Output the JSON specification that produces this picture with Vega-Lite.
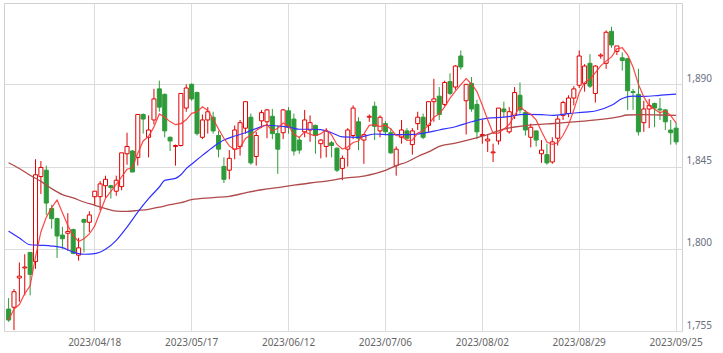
{
"$schema": "https://vega.github.io/schema/vega-lite/v6.json",
"width": 678, "height": 328,
"autosize": {"type": "none"},
"padding": {"left": 4, "top": 3, "right": 41, "bottom": 22},
"background": "white",
"config": {"view": {"stroke": "#cfcfcf"}, "font": "Noto Sans"},
"datasets": {
"candles": [
{"d":"2023/03/27","o":1767,"h":1773,"l":1760,"c":1761,"ma5":1761},
{"d":"2023/03/28","o":1768,"h":1778,"l":1755.5,"c":1776.5,"ma5":1767},
{"d":"2023/03/29","o":1784,"h":1792.5,"l":1771,"c":1785,"ma5":1769.5},
{"d":"2023/03/30","o":1789.5,"h":1797,"l":1774.5,"c":1790,"ma5":1775.5},
{"d":"2023/03/31","o":1798,"h":1798,"l":1774.5,"c":1786,"ma5":1779.7},
{"d":"2023/04/03","o":1793,"h":1849,"l":1789,"c":1840.5,"ma5":1795.6},
{"d":"2023/04/04","o":1839.5,"h":1848,"l":1830,"c":1844.5,"ma5":1809.2},
{"d":"2023/04/05","o":1843,"h":1845.5,"l":1818.5,"c":1825,"ma5":1817.2},
{"d":"2023/04/06","o":1822,"h":1824,"l":1811,"c":1816.5,"ma5":1822.5},
{"d":"2023/04/07","o":1816.5,"h":1817,"l":1795,"c":1807,"ma5":1826.7},
{"d":"2023/04/10","o":1807.5,"h":1812,"l":1800,"c":1805.5,"ma5":1819.7},
{"d":"2023/04/11","o":1808.5,"h":1819.5,"l":1799,"c":1809.5,"ma5":1812.7},
{"d":"2023/04/12","o":1810.5,"h":1811,"l":1797,"c":1797.5,"ma5":1807.2},
{"d":"2023/04/13","o":1796.5,"h":1806,"l":1793.5,"c":1800.5,"ma5":1804},
{"d":"2023/04/14","o":1816,"h":1816.5,"l":1798,"c":1814.5,"ma5":1805.5},
{"d":"2023/04/17","o":1814.5,"h":1820.5,"l":1809,"c":1818.5,"ma5":1808.1},
{"d":"2023/04/18","o":1828.5,"h":1831.5,"l":1823.5,"c":1831.5,"ma5":1812.5},
{"d":"2023/04/19","o":1828.5,"h":1837,"l":1821,"c":1835.5,"ma5":1820.1},
{"d":"2023/04/20","o":1834.5,"h":1840,"l":1828,"c":1838,"ma5":1827.6},
{"d":"2023/04/21","o":1834.5,"h":1835,"l":1827.5,"c":1833.5,"ma5":1831.4},
{"d":"2023/04/24","o":1831.5,"h":1840,"l":1829,"c":1837.5,"ma5":1835.2},
{"d":"2023/04/25","o":1834,"h":1852.5,"l":1832,"c":1852.5,"ma5":1839.4},
{"d":"2023/04/26","o":1852,"h":1863.5,"l":1846,"c":1856,"ma5":1843.5},
{"d":"2023/04/27","o":1853.5,"h":1854,"l":1842,"c":1842,"ma5":1844.3},
{"d":"2023/04/28","o":1850,"h":1873.5,"l":1845.5,"c":1873.5,"ma5":1852.3},
{"d":"2023/05/01","o":1873.5,"h":1874,"l":1863,"c":1871,"ma5":1859},
{"d":"2023/05/02","o":1861,"h":1873,"l":1850,"c":1865,"ma5":1861.5},
{"d":"2023/05/08","o":1870.5,"h":1887.5,"l":1868,"c":1882,"ma5":1866.7},
{"d":"2023/05/09","o":1887.5,"h":1892,"l":1875,"c":1877.5,"ma5":1873.8},
{"d":"2023/05/10","o":1884.5,"h":1885,"l":1861,"c":1864.5,"ma5":1872},
{"d":"2023/05/11","o":1861,"h":1861.5,"l":1853.5,"c":1859,"ma5":1869.6},
{"d":"2023/05/12","o":1856,"h":1857,"l":1845.5,"c":1856.5,"ma5":1867.9},
{"d":"2023/05/15","o":1856.5,"h":1885,"l":1856,"c":1885,"ma5":1868.5},
{"d":"2023/05/16","o":1877,"h":1890,"l":1875,"c":1888,"ma5":1870.6},
{"d":"2023/05/17","o":1890,"h":1890.5,"l":1881,"c":1882,"ma5":1874.1},
{"d":"2023/05/18","o":1885.5,"h":1886,"l":1862,"c":1863,"ma5":1874.9},
{"d":"2023/05/19","o":1861,"h":1873.5,"l":1860,"c":1870.5,"ma5":1877.7},
{"d":"2023/05/22","o":1870.5,"h":1877.5,"l":1863,"c":1875,"ma5":1875.7},
{"d":"2023/05/23","o":1872,"h":1875,"l":1863,"c":1864.5,"ma5":1871},
{"d":"2023/05/24","o":1862,"h":1864.5,"l":1850,"c":1854.5,"ma5":1865.5},
{"d":"2023/05/25","o":1845,"h":1850,"l":1836,"c":1838,"ma5":1860.5},
{"d":"2023/05/26","o":1843,"h":1854,"l":1838,"c":1849.5,"ma5":1856.3},
{"d":"2023/05/29","o":1854.5,"h":1867.5,"l":1849,"c":1865,"ma5":1854.3},
{"d":"2023/05/30","o":1856,"h":1870.5,"l":1851,"c":1869,"ma5":1855.2},
{"d":"2023/05/31","o":1866,"h":1880.5,"l":1863,"c":1880.5,"ma5":1860.4},
{"d":"2023/06/01","o":1872,"h":1874,"l":1846,"c":1847,"ma5":1862.2},
{"d":"2023/06/02","o":1850.5,"h":1864,"l":1845.5,"c":1862,"ma5":1864.7},
{"d":"2023/06/05","o":1870,"h":1876,"l":1866,"c":1874.5,"ma5":1866.6},
{"d":"2023/06/06","o":1869.5,"h":1876.5,"l":1860.5,"c":1876,"ma5":1868},
{"d":"2023/06/07","o":1872.5,"h":1876.5,"l":1860,"c":1863,"ma5":1864.5},
{"d":"2023/06/08","o":1863,"h":1867.5,"l":1841,"c":1854.5,"ma5":1866},
{"d":"2023/06/09","o":1863.5,"h":1876.5,"l":1860,"c":1876,"ma5":1868.8},
{"d":"2023/06/12","o":1875.5,"h":1877.5,"l":1863,"c":1866.5,"ma5":1867.2},
{"d":"2023/06/13","o":1871,"h":1874,"l":1851,"c":1853.5,"ma5":1862.7},
{"d":"2023/06/14","o":1859.5,"h":1861.5,"l":1852,"c":1854,"ma5":1860.9},
{"d":"2023/06/15","o":1864,"h":1876,"l":1861,"c":1870.5,"ma5":1864.1},
{"d":"2023/06/16","o":1865,"h":1873,"l":1858.5,"c":1869,"ma5":1862.7},
{"d":"2023/06/19","o":1867.5,"h":1868,"l":1852,"c":1862,"ma5":1861.8},
{"d":"2023/06/20","o":1857.5,"h":1860,"l":1849.5,"c":1859.5,"ma5":1863},
{"d":"2023/06/21","o":1856,"h":1866,"l":1850,"c":1864.5,"ma5":1865.1},
{"d":"2023/06/22","o":1858,"h":1859,"l":1850,"c":1856.5,"ma5":1862.3},
{"d":"2023/06/23","o":1855,"h":1855.5,"l":1842,"c":1843,"ma5":1857.1},
{"d":"2023/06/26","o":1844,"h":1851,"l":1837.5,"c":1849.5,"ma5":1854.6},
{"d":"2023/06/27","o":1854.5,"h":1866,"l":1845,"c":1865,"ma5":1855.7},
{"d":"2023/06/28","o":1862,"h":1878.5,"l":1860,"c":1877,"ma5":1858.2},
{"d":"2023/06/29","o":1869.5,"h":1872,"l":1854,"c":1860.5,"ma5":1859},
{"d":"2023/06/30","o":1859.5,"h":1862.5,"l":1846.5,"c":1862.5,"ma5":1862.9},
{"d":"2023/07/03","o":1872,"h":1873.5,"l":1869.5,"c":1872.5,"ma5":1867.5},
{"d":"2023/07/04","o":1878,"h":1880.5,"l":1859.5,"c":1867,"ma5":1867.9},
{"d":"2023/07/05","o":1864.5,"h":1873,"l":1861,"c":1872,"ma5":1866.9},
{"d":"2023/07/06","o":1868.5,"h":1870,"l":1862,"c":1864,"ma5":1867.6},
{"d":"2023/07/07","o":1863.5,"h":1866,"l":1852,"c":1852.5,"ma5":1865.6},
{"d":"2023/07/10","o":1845.5,"h":1856,"l":1840,"c":1854.5,"ma5":1862},
{"d":"2023/07/11","o":1861,"h":1870.5,"l":1857.5,"c":1865,"ma5":1861.6},
{"d":"2023/07/12","o":1864.5,"h":1866,"l":1859.5,"c":1860.5,"ma5":1859.3},
{"d":"2023/07/13","o":1857,"h":1866,"l":1851.5,"c":1864.5,"ma5":1859.4},
{"d":"2023/07/14","o":1868.5,"h":1875,"l":1865,"c":1872,"ma5":1863.3},
{"d":"2023/07/18","o":1872,"h":1874,"l":1860,"c":1861,"ma5":1864.6},
{"d":"2023/07/19","o":1867.5,"h":1880.5,"l":1864,"c":1880.5,"ma5":1867.7},
{"d":"2023/07/20","o":1880.5,"h":1893,"l":1869.5,"c":1882,"ma5":1872},
{"d":"2023/07/21","o":1883.5,"h":1888.5,"l":1870.5,"c":1873.5,"ma5":1873.8},
{"d":"2023/07/24","o":1879,"h":1892,"l":1878,"c":1891,"ma5":1877.6},
{"d":"2023/07/25","o":1891.5,"h":1896,"l":1884,"c":1885,"ma5":1882.4},
{"d":"2023/07/26","o":1888.5,"h":1900.5,"l":1887,"c":1900,"ma5":1886.3},
{"d":"2023/07/27","o":1905.5,"h":1908.5,"l":1898,"c":1899.5,"ma5":1889.8},
{"d":"2023/07/28","o":1881,"h":1890,"l":1862.5,"c":1890,"ma5":1893.1},
{"d":"2023/07/31","o":1890.5,"h":1894,"l":1875,"c":1876.5,"ma5":1890.2},
{"d":"2023/08/01","o":1879,"h":1881.5,"l":1860,"c":1864,"ma5":1886},
{"d":"2023/08/02","o":1862,"h":1870.5,"l":1857.5,"c":1862.5,"ma5":1878.5},
{"d":"2023/08/03","o":1859,"h":1862.5,"l":1853,"c":1860,"ma5":1870.6},
{"d":"2023/08/04","o":1852.5,"h":1857.5,"l":1847.5,"c":1853,"ma5":1863.2},
{"d":"2023/08/07","o":1859,"h":1877,"l":1857,"c":1877,"ma5":1863.3},
{"d":"2023/08/08","o":1876.5,"h":1880.5,"l":1872,"c":1875,"ma5":1865.5},
{"d":"2023/08/09","o":1864,"h":1877.5,"l":1863,"c":1875,"ma5":1868},
{"d":"2023/08/10","o":1873,"h":1888.5,"l":1871,"c":1885.5,"ma5":1873.1},
{"d":"2023/08/14","o":1884,"h":1891,"l":1874,"c":1876,"ma5":1877.7},
{"d":"2023/08/15","o":1874.5,"h":1876,"l":1862,"c":1865,"ma5":1875.3},
{"d":"2023/08/16","o":1861,"h":1868.5,"l":1855.5,"c":1866.5,"ma5":1873.6},
{"d":"2023/08/17","o":1864.5,"h":1864.5,"l":1856,"c":1859.5,"ma5":1870.5},
{"d":"2023/08/18","o":1852,"h":1859.5,"l":1847,"c":1854,"ma5":1864.2},
{"d":"2023/08/21","o":1851.5,"h":1857.5,"l":1846,"c":1847,"ma5":1858.4},
{"d":"2023/08/22","o":1847.5,"h":1861,"l":1846.5,"c":1858.5,"ma5":1857.1},
{"d":"2023/08/23","o":1860.5,"h":1873,"l":1856.5,"c":1871,"ma5":1858},
{"d":"2023/08/24","o":1873,"h":1881,"l":1870.5,"c":1880,"ma5":1862.1},
{"d":"2023/08/25","o":1874,"h":1884,"l":1872,"c":1882.5,"ma5":1867.8},
{"d":"2023/08/28","o":1882.5,"h":1889,"l":1878.5,"c":1887.5,"ma5":1875.9},
{"d":"2023/08/29","o":1889.5,"h":1908.5,"l":1888,"c":1905.5,"ma5":1885.3},
{"d":"2023/08/30","o":1890.5,"h":1901,"l":1886,"c":1900,"ma5":1891.1},
{"d":"2023/08/31","o":1901.5,"h":1906.5,"l":1888,"c":1889,"ma5":1892.9},
{"d":"2023/09/01","o":1885,"h":1900.5,"l":1880,"c":1900,"ma5":1896.4},
{"d":"2023/09/04","o":1905.5,"h":1907,"l":1904,"c":1906,"ma5":1900.1},
{"d":"2023/09/05","o":1901.5,"h":1919.5,"l":1898.5,"c":1918.5,"ma5":1902.7},
{"d":"2023/09/06","o":1919,"h":1921.5,"l":1910,"c":1911.5,"ma5":1905},
{"d":"2023/09/07","o":1908,"h":1911,"l":1906,"c":1911,"ma5":1909.4},
{"d":"2023/09/08","o":1904.5,"h":1907.5,"l":1897.5,"c":1903,"ma5":1910},
{"d":"2023/09/11","o":1904,"h":1904.5,"l":1876,"c":1886.5,"ma5":1906.1},
{"d":"2023/09/12","o":1886,"h":1887.5,"l":1876,"c":1885.5,"ma5":1899.5},
{"d":"2023/09/13","o":1884.5,"h":1898.5,"l":1862,"c":1864,"ma5":1890},
{"d":"2023/09/14","o":1869,"h":1881,"l":1864,"c":1876.5,"ma5":1883.1},
{"d":"2023/09/15","o":1876.5,"h":1882,"l":1866,"c":1878.5,"ma5":1878.2},
{"d":"2023/09/19","o":1879.5,"h":1880,"l":1866.5,"c":1877,"ma5":1876.3},
{"d":"2023/09/20","o":1876.5,"h":1882.5,"l":1870.5,"c":1876,"ma5":1874.4},
{"d":"2023/09/21","o":1876,"h":1876.5,"l":1865,"c":1869.5,"ma5":1875.5},
{"d":"2023/09/22","o":1865,"h":1870.5,"l":1857,"c":1863.5,"ma5":1872.9},
{"d":"2023/09/25","o":1866,"h":1869,"l":1857,"c":1858.5,"ma5":1868.9}
],
"ma25": [
{"d":"2023/03/27","v":1809.7},{"d":"2023/03/29","v":1805.9},{"d":"2023/03/31","v":1802.2},{"d":"2023/04/04","v":1801.9},
{"d":"2023/04/06","v":1801.5},{"d":"2023/04/10","v":1800.6},{"d":"2023/04/12","v":1798.2},{"d":"2023/04/14","v":1797},
{"d":"2023/04/18","v":1797.3},{"d":"2023/04/20","v":1799.7},{"d":"2023/04/24","v":1804.6},{"d":"2023/04/26","v":1811.9},
{"d":"2023/04/28","v":1820.1},{"d":"2023/05/02","v":1827.4},{"d":"2023/05/09","v":1833.8},{"d":"2023/05/10","v":1837.4},
{"d":"2023/05/12","v":1838.5},{"d":"2023/05/15","v":1840.5},{"d":"2023/05/16","v":1843.9},{"d":"2023/05/17","v":1846.3},
{"d":"2023/05/19","v":1851.1},{"d":"2023/05/23","v":1855.7},{"d":"2023/05/25","v":1859.5},{"d":"2023/05/29","v":1861.7},
{"d":"2023/05/31","v":1863.5},{"d":"2023/06/02","v":1865.8},{"d":"2023/06/06","v":1867.6},{"d":"2023/06/08","v":1867.2},
{"d":"2023/06/12","v":1866.6},{"d":"2023/06/14","v":1865.4},{"d":"2023/06/16","v":1865.4},{"d":"2023/06/20","v":1865.2},
{"d":"2023/06/22","v":1863.5},{"d":"2023/06/26","v":1861.2},{"d":"2023/06/29","v":1861},{"d":"2023/07/04","v":1862.8},
{"d":"2023/07/07","v":1862.5},{"d":"2023/07/12","v":1862.5},{"d":"2023/07/18","v":1863.2},{"d":"2023/07/21","v":1865},
{"d":"2023/07/26","v":1866.8},{"d":"2023/07/31","v":1869.5},{"d":"2023/08/03","v":1871.5},{"d":"2023/08/08","v":1872},
{"d":"2023/08/15","v":1873.5},{"d":"2023/08/18","v":1873.4},{"d":"2023/08/22","v":1873},{"d":"2023/08/25","v":1874},
{"d":"2023/08/30","v":1874.8},{"d":"2023/09/01","v":1875.4},{"d":"2023/09/06","v":1878.5},{"d":"2023/09/08","v":1882.2},
{"d":"2023/09/12","v":1883.5},{"d":"2023/09/14","v":1883.4},{"d":"2023/09/20","v":1884},{"d":"2023/09/25","v":1884.6}
],
"ma75": [
{"d":"2023/03/27","v":1847.1},{"d":"2023/03/29","v":1843.9},{"d":"2023/03/31","v":1840.2},{"d":"2023/04/04","v":1836.9},
{"d":"2023/04/06","v":1832.9},{"d":"2023/04/10","v":1829.6},{"d":"2023/04/12","v":1827.8},{"d":"2023/04/14","v":1825.6},
{"d":"2023/04/18","v":1823.8},{"d":"2023/04/20","v":1822},{"d":"2023/04/24","v":1820.6},{"d":"2023/04/26","v":1820.5},
{"d":"2023/04/28","v":1821},{"d":"2023/05/02","v":1821.6},{"d":"2023/05/09","v":1822.8},{"d":"2023/05/11","v":1824.1},
{"d":"2023/05/15","v":1825.2},{"d":"2023/05/17","v":1826.9},{"d":"2023/05/23","v":1828},{"d":"2023/05/26","v":1828.7},
{"d":"2023/05/31","v":1830.6},{"d":"2023/06/05","v":1832.3},{"d":"2023/06/08","v":1833.5},{"d":"2023/06/13","v":1834.8},
{"d":"2023/06/16","v":1836},{"d":"2023/06/21","v":1837},{"d":"2023/06/26","v":1838.5},{"d":"2023/06/30","v":1839.8},
{"d":"2023/07/06","v":1842.9},{"d":"2023/07/10","v":1845.5},{"d":"2023/07/12","v":1847.5},{"d":"2023/07/14","v":1850.5},
{"d":"2023/07/19","v":1853},{"d":"2023/07/21","v":1856},{"d":"2023/07/26","v":1857.8},{"d":"2023/07/31","v":1860},
{"d":"2023/08/03","v":1862.5},{"d":"2023/08/08","v":1865.5},{"d":"2023/08/15","v":1867.4},{"d":"2023/08/21","v":1868.3},
{"d":"2023/08/28","v":1869.4},{"d":"2023/09/04","v":1870.8},{"d":"2023/09/07","v":1872},{"d":"2023/09/11","v":1873.2},
{"d":"2023/09/14","v":1873.4},{"d":"2023/09/20","v":1873.2},{"d":"2023/09/25","v":1873}
]
},
"layer": [
{
"data": {"name": "candles"},
"mark": {"type": "rule", "strokeWidth": 1},
"encoding": {
"x": {"field": "d", "type": "ordinal", "sort": "ascending",
"scale": {"type": "band", "paddingInner": 0.25, "paddingOuter": 0.6, "align": 0.4},
"axis": {"values": ["2023/04/18","2023/05/17","2023/06/12","2023/07/06","2023/08/02","2023/08/29","2023/09/25"],
"title": null, "grid": true, "gridColor": "#dcdcdc", "gridWidth": 1, "ticks": false, "domain": false, "labelAngle": 0,
"labelFont": "Noto Sans", "labelFontSize": 10, "labelColor": "#666666", "labelPadding": 6, "bandPosition": 0.5}},
"y": {"field": "l", "type": "quantitative", "title": null,
"scale": {"domain": [1755, 1934.5], "nice": false, "zero": false},
"axis": {"orient": "right", "values": [1755, 1800, 1845, 1890], "labelExpr": "format(datum.value, ',')", "title": null, "grid": true,
"gridColor": "#dcdcdc", "gridWidth": 1, "ticks": false, "domain": false, "labelFont": "Noto Sans", "labelFontSize": 10,
"labelColor": "#6a6f80", "labelPadding": 4, "labelAlign": "left", "labelBaseline": "alphabetic", "labelOffset": -3}},
"y2": {"field": "h"},
"stroke": {"condition": {"test": "datum.c >= datum.o", "value": "#e00000"}, "value": "#2e9b3a"}
}
},
{
"data": {"name": "candles"},
"mark": {"type": "bar", "strokeWidth": 1},
"encoding": {
"x": {"field": "d", "type": "ordinal", "sort": "ascending"},
"y": {"field": "o", "type": "quantitative", "title": null},
"y2": {"field": "c"},
"fill": {"condition": {"test": "datum.c >= datum.o", "value": "#ffffff"}, "value": "#2e9b3a"},
"stroke": {"condition": {"test": "datum.c >= datum.o", "value": "#e00000"}, "value": "#2e9b3a"}
}
},
{
"data": {"name": "ma75"},
"mark": {"type": "line", "color": "#b04a4a", "strokeWidth": 1.3, "interpolate": "monotone"},
"encoding": {
"x": {"field": "d", "type": "ordinal", "sort": "ascending"},
"y": {"field": "v", "type": "quantitative", "title": null}
}
},
{
"data": {"name": "ma25"},
"mark": {"type": "line", "color": "#3030ff", "strokeWidth": 1.2, "interpolate": "monotone"},
"encoding": {
"x": {"field": "d", "type": "ordinal", "sort": "ascending"},
"y": {"field": "v", "type": "quantitative", "title": null}
}
},
{
"data": {"name": "candles"},
"mark": {"type": "line", "color": "#ff3333", "strokeWidth": 1.2, "opacity": 0.9},
"encoding": {
"x": {"field": "d", "type": "ordinal", "sort": "ascending"},
"y": {"field": "ma5", "type": "quantitative", "title": null}
}
}
]
}
